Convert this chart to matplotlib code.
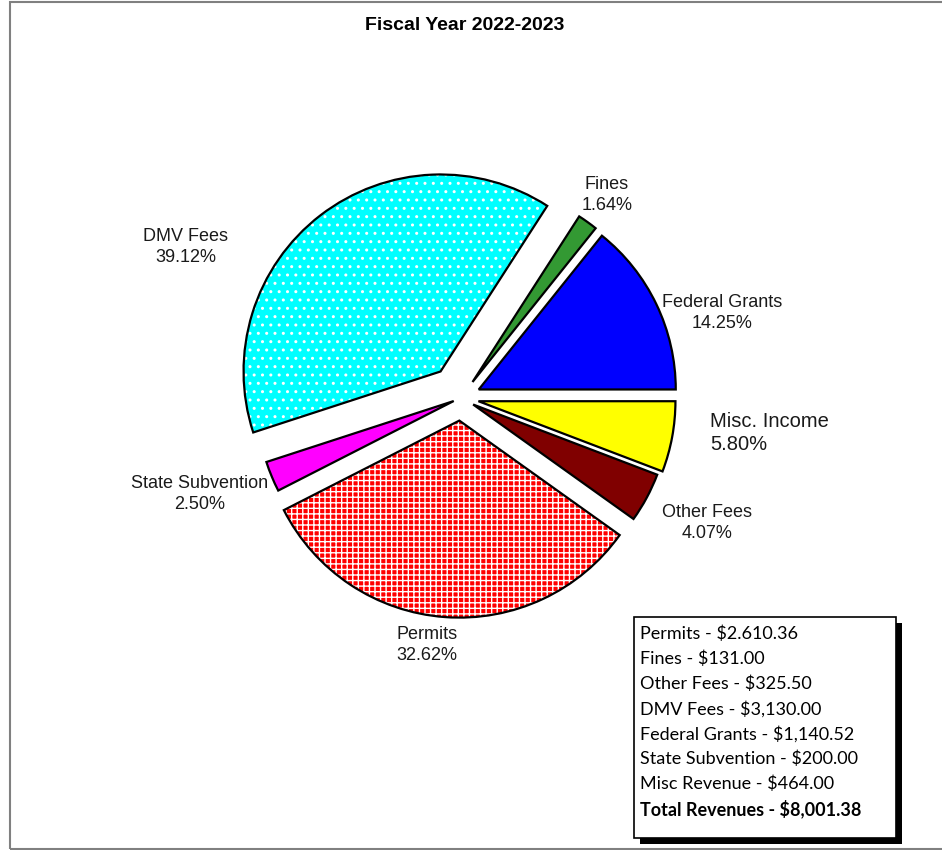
import matplotlib.pyplot as plt
from matplotlib.patches import Rectangle

# --- Data ---
categories = ["Federal Grants", "Fines", "DMV Fees", "State Subvention",
              "Permits", "Other Fees", "Misc. Income"]
amounts = [1140.52, 131.00, 3130.00, 200.00, 2610.36, 325.50, 464.00]
colors = ["#0000FF", "#339933", "#00FFFF", "#FF00FF", "#FF0000", "#800000", "#FFFF00"]
hatches = [None, None, "..", None, "+++", None, None]
explode = [0.10, 0.10, 0.17, 0.04, 0.115, 0.07, 0.09]

summary_lines = [
    "Permits - $2.610.36",
    "Fines - $131.00",
    "Other Fees - $325.50",
    "DMV Fees - $3,130.00",
    "Federal Grants - $1,140.52",
    "State Subvention - $200.00",
    "Misc Revenue - $464.00",
]
total_line = "Total Revenues - $8,001.38"

# label positions in pie-radius units (x, y, ha, fontsize)
label_pos = {
    "Federal Grants": (1.325, 0.431, "center", 13),
    "Fines": (0.741, 1.030, "center", 13),
    "DMV Fees": (-1.396, 0.766, "center", 13),
    "State Subvention": (-1.325, -0.487, "center", 13),
    "Permits": (-0.173, -1.254, "center", 13),
    "Other Fees": (1.249, -0.635, "center", 13),
    "Misc. Income": (1.264, -0.178, "left", 14.5),
}

W, H = 942, 850
cx, cy, R = 461, 398, 197  # pie centre / radius in pixels

fig = plt.figure(figsize=(W / 100, H / 100), dpi=100)
ax = fig.add_axes([0, 0, 1, 1])

# hatched fill first (hatch colour follows edgecolor), then outlines
wedges, _ = ax.pie(amounts, colors=colors, explode=explode, startangle=0,
                   counterclock=True, wedgeprops=dict(edgecolor="white", linewidth=0))
for w, h in zip(wedges, hatches):
    if h:
        w.set_hatch(h)
plt.rcParams["hatch.linewidth"] = 1.0
outline, _ = ax.pie(amounts, explode=explode, startangle=0, counterclock=True,
                    wedgeprops=dict(facecolor="none", edgecolor="black", linewidth=1.6))

ax.set_xlim(-cx / R, (W - cx) / R)
ax.set_ylim(-(H - cy) / R, cy / R)
ax.set_aspect("equal", adjustable="box")
ax.axis("off")

total = sum(amounts)
for cat, val in zip(categories, amounts):
    x, y, ha, fs = label_pos[cat]
    ax.text(x, y, f"{cat}\n{val / total * 100:.2f}%", ha=ha, va="center",
            fontsize=fs, family="Liberation Sans", color="#1a1a1a", linespacing=1.25)

fig.text(465 / W, 1 - 25 / H, "Fiscal Year 2022-2023", ha="center", va="center",
         fontsize=14, fontweight="bold", family="Liberation Sans")

# summary box with shadow
bx0, by0, bx1, by1 = 634, 617, 896, 838
fig.patches.append(Rectangle(((bx0 + 6) / W, 1 - (by1 + 6) / H), (bx1 - bx0) / W, (by1 - by0) / H,
                             transform=fig.transFigure, facecolor="black", edgecolor="none"))
fig.patches.append(Rectangle((bx0 / W, 1 - by1 / H), (bx1 - bx0) / W, (by1 - by0) / H,
                             transform=fig.transFigure, facecolor="white", edgecolor="black",
                             linewidth=1.2))
for i, line in enumerate(summary_lines + [total_line]):
    fig.text(640 / W, 1 - (634 + i * 25) / H, line, ha="left", va="center", fontsize=13,
             family="Lato", fontweight="bold" if line == total_line else "normal")

# outer frame (right edge runs off the image)
fig.patches.append(Rectangle((10 / W, 1.5 / H), 1.1, 1 - 3 / H, transform=fig.transFigure,
                             facecolor="none", edgecolor="#808080", linewidth=1.5))

fig.savefig("out.png", dpi=100)
